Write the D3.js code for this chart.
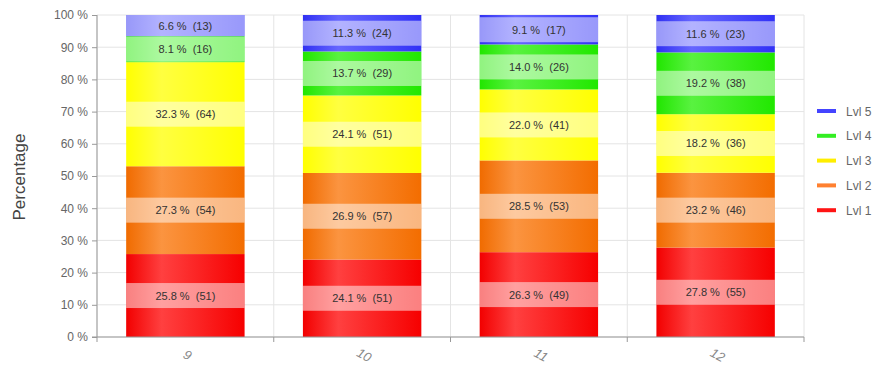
<!DOCTYPE html>
<html>
<head>
<meta charset="utf-8">
<script src="https://cdn.jsdelivr.net/npm/d3@7"></script>
<style>
body{margin:0;background:#fff;font-family:"Liberation Sans",Arial,sans-serif}
</style>
</head>
<body>
<svg id="chart" width="883" height="370"></svg>
<script>
var categories = ['9','10','11','12']
var levels = ['Lvl 1','Lvl 2','Lvl 3','Lvl 4','Lvl 5']
var lvl1 = [51,51,49,55]
var lvl2 = [54,57,53,46]
var lvl3 = [64,51,41,36]
var lvl4 = [16,29,26,38]
var lvl5 = [13,24,17,23]
var yTicks = [0,10,20,30,40,50,60,70,80,90,100]
var colors = ['#ff0000','#fa7000','#ffff00','#22ee00','#3333ff']
var edgeDark = [0.15,0.12,0,0.1,0.15]
var legendColors = ['#ff1414','#ff8030','#ffee00','#33ee22','#4444ff']

var series = [lvl1,lvl2,lvl3,lvl4,lvl5]
var svg = d3.select('#chart')
var m = {l:97,r:804,t:15,b:337}

var x = d3.scaleBand().domain(categories).range([m.l,m.r]).paddingInner(0.33).paddingOuter(0.165)
var y = d3.scaleLinear().domain([0,100]).range([m.b,m.t])

// gradients
var defs = svg.append('defs')
colors.forEach(function(c,i){
	var g = defs.append('linearGradient').attr('id','g'+i).attr('x1','0').attr('x2','1').attr('y1','0').attr('y2','0')
	g.append('stop').attr('offset','0%').attr('stop-color',d3.color(c).darker(edgeDark[i]))
	g.append('stop').attr('offset','30%').attr('stop-color',d3.interpolateRgb(c,'#ffffff')(0.25))
	g.append('stop').attr('offset','100%').attr('stop-color',d3.color(c).darker(edgeDark[i]*0.7))
})

// grid
var grid = svg.append('g')
yTicks.forEach(function(t){
	grid.append('line').attr('x1',m.l).attr('x2',m.r).attr('y1',y(t)).attr('y2',y(t))
		.attr('stroke','#e4e4e4').attr('stroke-width',1)
})
var bounds = categories.map(function(c){ return x(c) - x.step()*x.paddingInner()/2 }).concat([m.r])
bounds.forEach(function(b){
	grid.append('line').attr('x1',b).attr('x2',b).attr('y1',m.t).attr('y2',m.b)
		.attr('stroke','#e4e4e4').attr('stroke-width',1)
})

// bars
var bars = svg.append('g')
categories.forEach(function(c,ci){
	var total = d3.sum(series,function(s){ return s[ci] })
	var acc = 0
	series.forEach(function(s,si){
		var pct = s[ci]/total*100
		var y0 = y(acc), y1 = y(acc+pct)
		acc += pct
		var h = y0-y1
		bars.append('rect').attr('x',x(c)).attr('y',y1).attr('width',x.bandwidth()).attr('height',h)
			.attr('fill','url(#g'+si+')')
		var bh = Math.min(25,h)
		var mid = (y0+y1)/2
		bars.append('rect').attr('x',x(c)).attr('y',mid-bh/2).attr('width',x.bandwidth()).attr('height',bh)
			.attr('fill','#ffffff').attr('opacity',0.5)
		bars.append('text').attr('x',x(c)+x.bandwidth()/2).attr('y',mid+4)
			.attr('text-anchor','middle').attr('font-size',11).attr('fill','#333')
			.attr('xml:space','preserve')
			.text(pct.toFixed(1)+' %  ('+s[ci]+')')
	})
})

// axes
var yAxis = svg.append('g').attr('transform','translate('+m.l+',0)')
	.call(d3.axisLeft(y).tickValues(yTicks).tickSize(5).tickFormat(function(d){ return d+' %' }))
yAxis.select('.domain').attr('stroke','#999').attr('d','M0,'+m.t+'V'+m.b)
yAxis.selectAll('.tick line').attr('stroke','#999')
yAxis.selectAll('text').attr('fill','#666').attr('font-size',12).attr('font-family','"Liberation Sans",Arial,sans-serif').attr('x',-9)

var xAxis = svg.append('g')
xAxis.append('line').attr('x1',m.l-5).attr('x2',m.r).attr('y1',m.b).attr('y2',m.b).attr('stroke','#999')
bounds.forEach(function(b){
	xAxis.append('line').attr('x1',b).attr('x2',b).attr('y1',m.b).attr('y2',m.b+5).attr('stroke','#999')
})
categories.forEach(function(c){
	var cx = x(c)+x.bandwidth()/2
	xAxis.append('text').attr('transform','translate('+cx+',359) rotate(28)')
		.attr('text-anchor','middle').attr('font-size',13).attr('font-style','italic').attr('fill','#888')
		.text(c)
})

svg.append('text').attr('transform','translate(25,177) rotate(-90)').attr('text-anchor','middle')
	.attr('font-size',17).attr('fill','#444').text('Percentage')

// legend
var legend = svg.append('g')
levels.slice().reverse().forEach(function(l,i){
	var si = levels.length-1-i
	var ly = 111 + i*24.8
	legend.append('line').attr('x1',817).attr('x2',836).attr('y1',ly).attr('y2',ly)
		.attr('stroke',legendColors[si]).attr('stroke-width',4)
	legend.append('text').attr('x',846).attr('y',ly+4.5).attr('font-size',12).attr('fill','#666').text(l)
})
</script>
</body>
</html>
